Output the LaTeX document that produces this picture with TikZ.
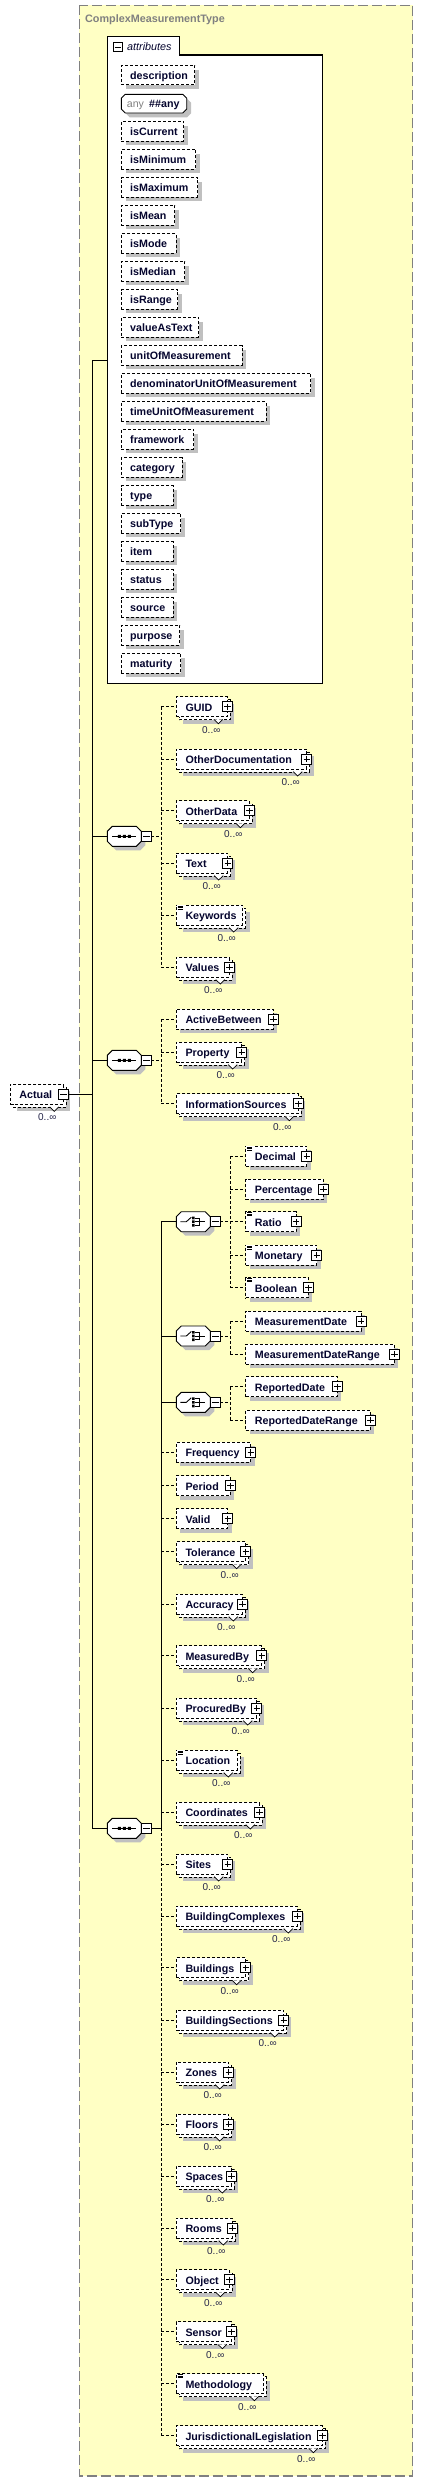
\documentclass[tikz,border=0pt]{standalone}
\usepackage{fontspec}
\setmainfont{Liberation Sans}
\definecolor{ybg}{HTML}{FFFFC4}
\definecolor{shd}{HTML}{C0C0C0}
\definecolor{obd}{HTML}{808080}
\definecolor{txn}{HTML}{05052E}
\definecolor{lbl}{HTML}{25254A}
\tikzset{
 ln/.style={line width=0.9pt},
 dsh/.style={line width=0.9pt, dash pattern=on 3pt off 2pt},
 elbox/.style={draw, dsh, fill=white, inner sep=0pt, outer sep=0pt},
 eltext/.style={font=\fontsize{10.7}{12}\selectfont\bfseries, text=txn, inner sep=0pt},
 mult/.style={font=\fontsize{10}{12}\selectfont, text=lbl, inner sep=0pt},
 tog/.style={draw, ln, fill=white, minimum size=10pt, inner sep=0pt, outer sep=0pt},
}
\newcommand\plusb[3]{%
 \node[tog] (#1) at (#2,#3) {};
 \draw[line width=0.8pt] (#2-3.2,#3) -- (#2+3.2,#3) (#2,#3-3.2) -- (#2,#3+3.2);}
\newcommand\minusb[3]{%
 \node[tog] (#1) at (#2,#3) {};
 \draw[line width=0.8pt] (#2-3.2,#3) -- (#2+3.2,#3);}
\newcommand\icn[2]{%
 \fill[white] (#1+0.6,#2-9.6) rectangle (#1+7.2,#2-5.2);
 \draw[line width=0.6pt] (#1+1.3,#2-9) -- ++(5.4,0) (#1+1.3,#2-7.5) -- ++(5.4,0) (#1+1.3,#2-6) -- ++(5.4,0);}
\newcommand\elS[5]{%
 \fill[shd] (#2+4,#4-6) rectangle (#3+4,#4+14);
 \node[elbox, minimum width=#3-#2, minimum height=20, anchor=west] (#1) at (#2,#4) {};
 \node[eltext, anchor=base west] (#1x) at (#2+9,#4+4.5) {#5};}
\newcommand\elM[5]{%
 \fill[shd] (#2+7,#4-3) rectangle (#3+7,#4+17);
 \draw[dsh, fill=white] (#2+3,#4-7) rectangle (#3+3,#4+13);
 \node[elbox, minimum width=#3-#2, minimum height=20, anchor=west] (#1) at (#2,#4) {};
 \fill[white] (#3-13.5,#4+12.6) -- (#3-9,#4+17) -- (#3-4.5,#4+12.6) -- cycle;
 \draw[line width=0.7pt] (#3-13.5,#4+12.6) -- (#3-9,#4+17) -- (#3-4.5,#4+12.6);
 \node[eltext, anchor=base west] (#1x) at (#2+9,#4+4.5) {#5};
 \node[mult] (#1c) at (#3-16,#4+23) {0..∞};}
\newcommand\att[4]{%
 \fill[shd] (125.6,#3-5.4) rectangle (#2+4.3,#3+14);
 \node[elbox, minimum width=#2-121.3, minimum height=19.4, anchor=west] (#1) at (121.3,#3) {};
 \node[eltext, anchor=base west] (#1x) at (130,#3+4.3) {#4};}
\newcommand\comp[4]{%
 \fill[shd] (#2+4,#3-1) -- (#2+9,#3-6) -- (#2+33,#3-6) -- (#2+38,#3-1) -- (#2+38,#3+9) -- (#2+33,#3+14) -- (#2+9,#3+14) -- (#2+4,#3+9) -- cycle;
 \draw[ln, fill=white] (#2,#3-5) -- (#2+5,#3-10) -- (#2+29,#3-10) -- (#2+34,#3-5) -- (#2+34,#3+5) -- (#2+29,#3+10) -- (#2+5,#3+10) -- (#2,#3+5) -- cycle;
 \coordinate (#1) at (#2,#3);
 \ifnum#4=1
  \draw[ln] (#2+5,#3) -- (#2+29,#3);
  \fill (#2+10.5,#3-1.5) rectangle ++(3,3) (#2+15.5,#3-1.5) rectangle ++(3,3) (#2+20.5,#3-1.5) rectangle ++(3,3);
 \else
  \draw[ln] (#2+4,#3) -- (#2+10,#3) -- (#2+15,#3-4.5);
  \fill (#2+15.8,#3-5) rectangle ++(2.6,2.6) (#2+15.8,#3-1.3) rectangle ++(2.6,2.6) (#2+15.8,#3+2.4) rectangle ++(2.6,2.6);
  \draw[ln] (#2+18.4,#3-3.7) -- (#2+23.5,#3-3.7) -- (#2+23.5,#3+3.7) -- (#2+18.4,#3+3.7) (#2+18.4,#3) -- (#2+29,#3);
 \fi
 \minusb{#1m}{#2+39}{#3}
 \coordinate (#1v) at (#2+54,#3);}
\begin{document}
\begin{tikzpicture}[x=1pt,y=-1pt]
\useasboundingbox (0,0) rectangle (423,2482);
\fill[white] (0,0) rectangle (423,2482);
% outer complex type box
\draw[obd, line width=1.2pt, dash pattern=on 10pt off 4pt, fill=ybg] (79.3,5.3) rectangle (412.7,2476);
\node[font=\fontsize{10.8}{12}\selectfont\bfseries, text=obd, anchor=base west, inner sep=0pt] (title) at (85,22) {ComplexMeasurementType};
% attributes box
\draw[line width=1.1pt, fill=white] (107.3,683.3) -- (107.3,36.7) -- (179.3,36.7) -- (179.3,55) -- (322.7,55) -- (322.7,683.3) -- cycle;
\coordinate (attw) at (107.3,360);
\node[draw, line width=0.8pt, minimum size=9.4pt, inner sep=0pt] (attm) at (117.7,47) {};
\draw[line width=0.8pt] (114.5,47) -- (120.9,47);
\node[font=\fontsize{10.8}{12}\selectfont\itshape, text=txn, anchor=base west, inner sep=0pt] (attl) at (127,50.7) {attributes};
\att{adesc}{194.7}{75}{description}
% any
\fill[shd] (125.6,98.6) -- (129.6,98.6) -- (187,98.6) -- (191,102.6) -- (191,113.3) -- (187,117.3) -- (129.6,117.3) -- (125.6,113.3) -- cycle;
\draw[line width=0.9pt, fill=white] (121.3,98.3) -- (125.3,94.3) -- (182.7,94.3) -- (186.7,98.3) -- (186.7,109) -- (182.7,113) -- (125.3,113) -- (121.3,109) -- cycle;
\node[font=\fontsize{10.6}{12}\selectfont, text=obd, anchor=base west, inner sep=0pt] (anyk) at (126.7,107.5) {any};
\node[eltext, anchor=base west] (anyv) at (149,107.5) {\#\#any};
\att{acur}{183.7}{131.3}{isCurrent}
\att{amin}{195.7}{159.3}{isMinimum}
\att{amax}{197.7}{187.3}{isMaximum}
\att{amean}{174.7}{215.3}{isMean}
\att{amode}{176}{243.3}{isMode}
\att{amed}{184.7}{271.3}{isMedian}
\att{arange}{177.7}{299.3}{isRange}
\att{avat}{198.7}{327.3}{valueAsText}
\att{auom}{242}{355.3}{unitOfMeasurement}
\att{aduom}{310.7}{383.3}{denominatorUnitOfMeasurement}
\att{atuom}{266}{411.3}{timeUnitOfMeasurement}
\att{afw}{193.7}{439.3}{framework}
\att{acat}{182}{467.3}{category}
\att{atype}{173}{495.3}{type}
\att{astype}{180.7}{523.3}{subType}
\att{aitem}{173}{551.3}{item}
\att{astat}{173}{579.3}{status}
\att{asrc}{173}{607.3}{source}
\att{apurp}{179.7}{635.3}{purpose}
\att{amat}{180.7}{663.3}{maturity}
% Actual
\elM{actual}{10.3}{63.3}{1094.3}{Actual}
\minusb{actm}{63.3}{1094.3}
% main trunk
\coordinate (vtop) at (92.3,360);
\coordinate (vbot) at (92.3,1828.3);
\draw[ln] (vtop) -- (vbot);
\draw[ln] (vtop) -- (attw);
\draw[ln] (actm.east) -- (vtop |- actm.east);
% compositors
\comp{sa}{107.3}{836.3}{1}
\comp{sb}{107.3}{1060.3}{1}
\comp{sc}{107.3}{1828.3}{1}
\draw[ln] (vtop |- sa) -- (sa);
\draw[ln] (vtop |- sb) -- (sb);
\draw[ln] (vbot) -- (sc);
% sequence 1
\elM{guid}{176.3}{227.3}{706.7}{GUID}\plusb{guidp}{227.3}{706.7}
\elM{odoc}{176.3}{306.7}{759}{OtherDocumentation}\plusb{odocp}{306.7}{759}
\elM{odat}{176.3}{249.3}{810.7}{OtherData}\plusb{odatp}{249.3}{810.7}
\elM{text}{176.3}{227.7}{863}{Text}\plusb{textp}{227.7}{863}
\elM{keyw}{176.3}{242.7}{915}{Keywords}\icn{176.3}{915}
\elM{vals}{176.3}{229.3}{967}{Values}\plusb{valsp}{229.3}{967}
\draw[dsh] (sam.east) -- (sav);
\draw[dsh] (sav |- guid.west) -- (sav |- vals.west);
\foreach \n in {guid,odoc,odat,text,keyw,vals} \draw[dsh] (sav |- \n.west) -- (\n.west);
% sequence 2
\elS{actb}{176.3}{273.3}{1019}{ActiveBetween}\plusb{actbp}{273.3}{1019}
\elM{prop}{176.3}{241.7}{1052}{Property}\plusb{propp}{241.7}{1052}
\elM{info}{176.3}{298.3}{1103.7}{InformationSources}\plusb{infop}{298.3}{1103.7}
\draw[dsh] (sbm.east) -- (sbv);
\draw[dsh] (sbv |- actb.west) -- (sbv |- info.west);
\foreach \n in {actb,prop,info} \draw[dsh] (sbv |- \n.west) -- (\n.west);
% sequence 3 : choices
\comp{ca}{176.3}{1221.7}{2}
\comp{cb}{176.3}{1336}{2}
\comp{cc}{176.3}{1402.3}{2}
\elS{dec}{245.7}{306.7}{1156}{Decimal}\icn{245.7}{1156}\plusb{decp}{306.7}{1156}
\elS{perc}{245.7}{323.3}{1189}{Percentage}\plusb{percp}{323.3}{1189}
\elS{ratio}{245.7}{296}{1221.7}{Ratio}\icn{245.7}{1221.7}\plusb{ratiop}{296}{1221.7}
\elS{mon}{245.7}{316.7}{1255}{Monetary}\icn{245.7}{1255}\plusb{monp}{316.7}{1255}
\elS{bool}{245.7}{308.3}{1287.7}{Boolean}\icn{245.7}{1287.7}\plusb{boolp}{308.3}{1287.7}
\draw[dsh] (cam.east) -- (cav);
\draw[dsh] (cav |- dec.west) -- (cav |- bool.west);
\foreach \n in {dec,perc,ratio,mon,bool} \draw[dsh] (cav |- \n.west) -- (\n.west);
\elS{mdate}{245.7}{361}{1321}{MeasurementDate}\plusb{mdatep}{361}{1321}
\elS{mdr}{245.7}{394.3}{1354}{MeasurementDateRange}\plusb{mdrp}{394.3}{1354}
\draw[dsh] (cbm.east) -- (cbv);
\draw[dsh] (cbv |- mdate.west) -- (cbv |- mdr.west);
\foreach \n in {mdate,mdr} \draw[dsh] (cbv |- \n.west) -- (\n.west);
\elS{rdate}{245.7}{337.3}{1386.7}{ReportedDate}\plusb{rdatep}{337.3}{1386.7}
\elS{rdr}{245.7}{370.3}{1420}{ReportedDateRange}\plusb{rdrp}{370.3}{1420}
\draw[dsh] (ccm.east) -- (ccv);
\draw[dsh] (ccv |- rdate.west) -- (ccv |- rdr.west);
\foreach \n in {rdate,rdr} \draw[dsh] (ccv |- \n.west) -- (\n.west);
% sequence 3 : elements
\elS{freq}{176.3}{250.7}{1452.3}{Frequency}\plusb{freqp}{250.7}{1452.3}
\elS{per}{176.3}{230.3}{1485.7}{Period}\plusb{perp}{230.3}{1485.7}
\elS{valid}{176.3}{227.7}{1518.7}{Valid}\plusb{validp}{227.7}{1518.7}
\elM{tol}{176.3}{245.7}{1551.7}{Tolerance}\plusb{tolp}{245.7}{1551.7}
\elM{acc}{176.3}{242.3}{1604}{Accuracy}\plusb{accp}{242.3}{1604}
\elM{meas}{176.3}{261.7}{1655.7}{MeasuredBy}\plusb{measp}{261.7}{1655.7}
\elM{proc}{176.3}{256.7}{1708}{ProcuredBy}\plusb{procp}{256.7}{1708}
\elM{loc}{176.3}{237.3}{1760}{Location}\icn{176.3}{1760}
\elM{coord}{176.3}{259.3}{1812}{Coordinates}\plusb{coordp}{259.3}{1812}
\elM{sites}{176.3}{227.7}{1864}{Sites}\plusb{sitesp}{227.7}{1864}
\elM{bcx}{176.3}{297.3}{1916}{BuildingComplexes}\plusb{bcxp}{297.3}{1916}
\elM{bld}{176.3}{245.7}{1967.7}{Buildings}\plusb{bldp}{245.7}{1967.7}
\elM{bsec}{176.3}{283.7}{2020}{BuildingSections}\plusb{bsecp}{283.7}{2020}
\elM{zones}{176.3}{228.7}{2072}{Zones}\plusb{zonesp}{228.7}{2072}
\elM{floors}{176.3}{228.7}{2124}{Floors}\plusb{floorsp}{228.7}{2124}
\elM{spaces}{176.3}{231.3}{2176}{Spaces}\plusb{spacesp}{231.3}{2176}
\elM{rooms}{176.3}{232.3}{2228}{Rooms}\plusb{roomsp}{232.3}{2228}
\elM{obj}{176.3}{229.3}{2279.7}{Object}\plusb{objp}{229.3}{2279.7}
\elM{sens}{176.3}{231.3}{2331.7}{Sensor}\plusb{sensp}{231.3}{2331.7}
\elM{meth}{176.3}{263.3}{2383.7}{Methodology}\icn{176.3}{2383.7}
\elM{juris}{176.3}{322.3}{2435.7}{JurisdictionalLegislation}\plusb{jurisp}{322.3}{2435.7}
\draw[ln] (scm.east) -- (scv);
\draw[ln] (scv |- ca) -- (scv);
\draw[dsh] (scv) -- (scv |- juris.west);
\foreach \n in {ca,cb,cc} \draw[ln] (scv |- \n) -- (\n);
\foreach \n in {freq,per,valid,tol,acc,meas,proc,loc,coord,sites,bcx,bld,bsec,zones,floors,spaces,rooms,obj,sens,meth,juris} \draw[dsh] (scv |- \n.west) -- (\n.west);
\end{tikzpicture}
\end{document}
